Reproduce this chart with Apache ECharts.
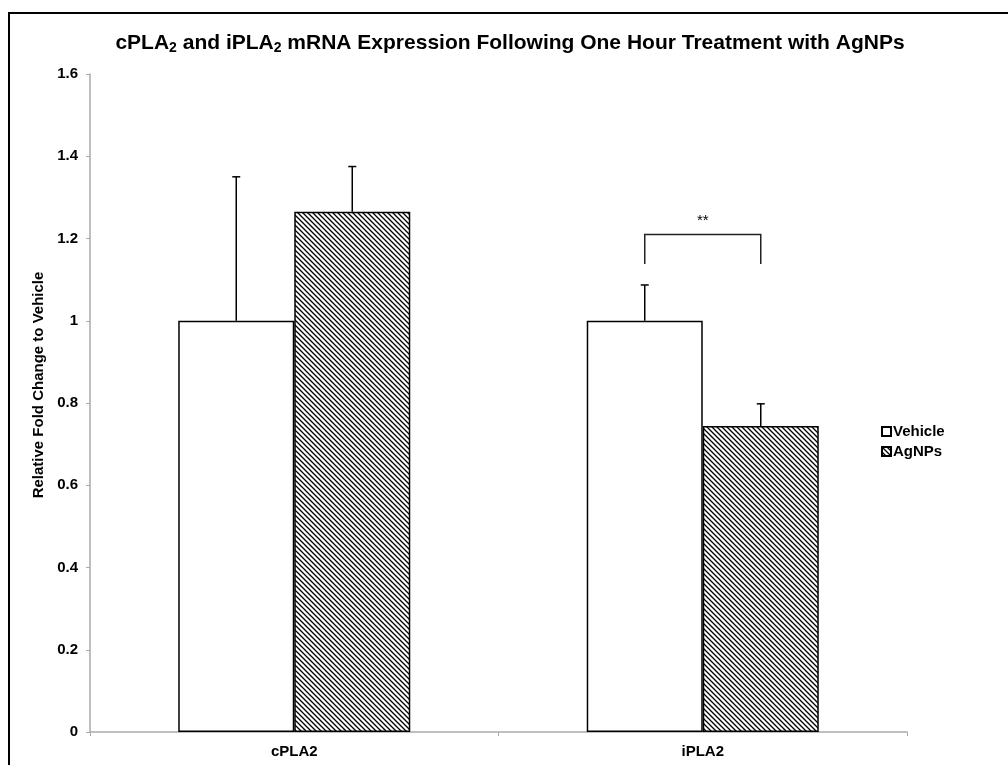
<!DOCTYPE html>
<html><head><meta charset="utf-8">
<script src="https://cdn.jsdelivr.net/npm/echarts@6/dist/echarts.min.js"></script>
<style>html,body{margin:0;padding:0;background:#fff}#c{width:1008px;height:765px}</style>
</head><body><div id="c"></div>
<script>
const categories = ['cPLA2', 'iPLA2'];
const seriesNames = ['Vehicle', 'AgNPs'];
const vehicleValues = [1.0, 1.0];
const agnpsValues = [1.265, 0.744];
const vehicleErrors = [0.35, 0.087];
const agnpsErrors = [0.11, 0.054];
const yTicks = [0, 0.2, 0.4, 0.6, 0.8, 1, 1.2, 1.4, 1.6];
const bracketCategory = 1;
const bracketTop = 1.21;
const bracketBottom = 1.138;
const bracketLabel = '**';

const FONT = '"Liberation Sans", Arial, sans-serif';

function makeHatch() {
  const s = 5;
  const c = document.createElement('canvas');
  c.width = s; c.height = s;
  const g = c.getContext('2d');
  g.fillStyle = '#fff'; g.fillRect(0, 0, s, s);
  g.strokeStyle = '#000'; g.lineWidth = 1.3;
  g.beginPath();
  g.moveTo(-1, -1); g.lineTo(s + 1, s + 1);
  g.moveTo(-1, s - 1); g.lineTo(1, s + 1);
  g.moveTo(s - 1, -1); g.lineTo(s + 1, 1);
  g.stroke();
  return c;
}
const hatch = { image: makeHatch(), repeat: 'repeat' };

const barWidthFrac = 0.284;

function errRender(vals, errs, side) {
  return function (params, api) {
    const i = api.value(0);
    const base = api.coord([i, vals[i]]);
    const top = api.coord([i, vals[i] + errs[i]]);
    const bw = api.size([1, 0])[0] * barWidthFrac;
    const x = base[0] + side * bw / 2;
    const cap = 4;
    return {
      type: 'group',
      children: [
        { type: 'line', shape: { x1: x, y1: base[1], x2: x, y2: top[1] }, style: { stroke: '#000', lineWidth: 1.5 } },
        { type: 'line', shape: { x1: x - cap, y1: top[1], x2: x + cap, y2: top[1] }, style: { stroke: '#000', lineWidth: 1.5 } }
      ]
    };
  };
}

const chart = echarts.init(document.getElementById('c'), null, { renderer: 'canvas' });
chart.setOption({
  animation: false,
  backgroundColor: '#fff',
  title: {
    text: 'cPLA{s|2} and iPLA{s|2} mRNA Expression Following One Hour Treatment with AgNPs',
    left: 505, textAlign: 'center', top: 27,
    textStyle: {
      fontFamily: FONT, fontWeight: 'bold', fontSize: 21, color: '#000',
      rich: { s: { fontFamily: FONT, fontWeight: 'bold', fontSize: 14, color: '#000', verticalAlign: 'bottom', padding: [9, 0, 0, 0] } }
    }
  },
  legend: {
    orient: 'vertical', left: 876, top: 419,
    icon: 'rect',
    itemWidth: 9, itemHeight: 9, itemGap: 5,
    textStyle: { fontFamily: FONT, fontWeight: 'bold', fontSize: 15, color: '#000', padding: [0, 0, 0, -3] },
    data: seriesNames
  },
  grid: { left: 90, right: 101, top: 74, bottom: 33, containLabel: false },
  xAxis: {
    type: 'category', data: categories,
    axisLine: { lineStyle: { color: '#aaa', width: 1.5 } },
    axisTick: { show: true, length: 4, lineStyle: { color: '#aaa' } },
    axisLabel: { fontFamily: FONT, fontWeight: 'bold', fontSize: 15, color: '#000', margin: 12 }
  },
  yAxis: {
    type: 'value', min: 0, max: 1.6, interval: 0.2,
    name: 'Relative Fold Change to Vehicle', nameLocation: 'middle', nameGap: 44,
    nameTextStyle: { fontFamily: FONT, fontWeight: 'bold', fontSize: 15, color: '#000', padding: [0, 0, 0, 36] },
    axisLine: { show: true, lineStyle: { color: '#aaa', width: 1.5 } },
    axisTick: { show: true, length: 4, lineStyle: { color: '#aaa' } },
    splitLine: { show: false },
    axisLabel: {
      fontFamily: FONT, fontWeight: 'bold', fontSize: 15, color: '#000', margin: 12,
      formatter: v => { const t = yTicks.find(k => Math.abs(k - v) < 1e-9); return t === undefined ? '' : String(t); }
    }
  },
  series: [
    {
      name: seriesNames[0], type: 'bar', data: vehicleValues, barWidth: (barWidthFrac * 100) + '%', barGap: '0%',
      itemStyle: { color: '#fff', borderColor: '#000', borderWidth: 1.5 }
    },
    {
      name: seriesNames[1], type: 'bar', data: agnpsValues, barWidth: (barWidthFrac * 100) + '%', barGap: '0%',
      itemStyle: { color: hatch, borderColor: '#000', borderWidth: 1.5 }
    },
    {
      type: 'custom', name: 'errV', data: categories.map((c, i) => [i]), renderItem: errRender(vehicleValues, vehicleErrors, -1),
      z: 5, silent: true
    },
    {
      type: 'custom', name: 'errA', data: categories.map((c, i) => [i]), renderItem: errRender(agnpsValues, agnpsErrors, 1),
      z: 5, silent: true
    },
    {
      type: 'custom', name: 'sig', data: [[bracketCategory]], z: 5, silent: true,
      renderItem: function (params, api) {
        const i = api.value(0);
        const t = api.coord([i, bracketTop]);
        const b = api.coord([i, bracketBottom]);
        const bw = api.size([1, 0])[0] * barWidthFrac;
        const xl = t[0] - bw / 2, xr = t[0] + bw / 2;
        return {
          type: 'group',
          children: [
            { type: 'polyline', shape: { points: [[xl, b[1]], [xl, t[1]], [xr, t[1]], [xr, b[1]]] }, style: { stroke: '#222', lineWidth: 1.5, fill: null } },
            { type: 'text', x: t[0], y: t[1] - 14, style: { text: bracketLabel, fontFamily: FONT, fontSize: 15, fill: '#000', align: 'center', verticalAlign: 'middle' } }
          ]
        };
      }
    }
  ],
  graphic: [
    { type: 'rect', shape: { x: 9, y: 13, width: 1010, height: 800 }, style: { fill: null, stroke: '#000', lineWidth: 2 }, z: 100 }
  ]
});
</script></body></html>
